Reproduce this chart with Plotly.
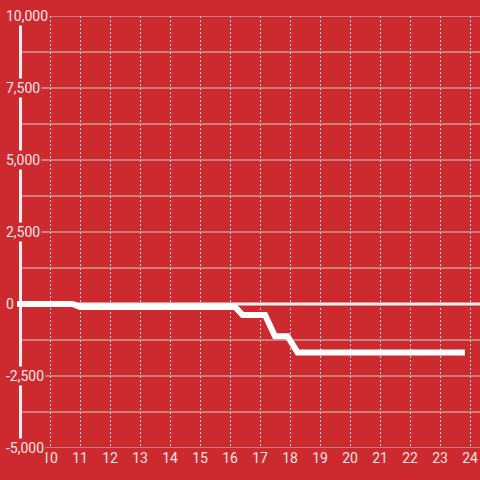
import plotly.graph_objects as go

# hours of the day and the running value
hours = [8.9, 10.75, 11.0, 16.17, 16.42, 17.17, 17.5, 17.92, 18.25, 23.83]
values = [0, 0, -100, -100, -380, -380, -1120, -1120, -1680, -1680]

x_ticks = list(range(10, 25))
y_ticks = [-5000, -2500, 0, 2500, 5000, 7500, 10000]
y_tick_labels = ["-5,000", "-2,500", "0", "2,500", "5,000", "7,500", "10,000"]
y_grid = [-5000, -3750, -2500, -1250, 0, 1250, 2500, 3750, 5000, 6250, 7500, 8750, 10000]

RED = "#CC2A2F"
TEXT = "#F6E2E3"
GRID = "#CFCFCF"
W = 480

fig = go.Figure()
fig.add_trace(go.Scatter(
    x=hours, y=values, mode="lines",
    line=dict(color="#FFFFFF", width=6),
    hoverinfo="skip", showlegend=False,
))

shapes = []
# horizontal grid lines
for v in y_grid:
    shapes.append(dict(type="line", xref="paper", yref="y", x0=22 / W, x1=1, y0=v, y1=v,
                       line=dict(color=GRID, width=1), layer="below"))
# zero line
shapes.append(dict(type="line", xref="paper", yref="y", x0=17 / W, x1=1, y0=0, y1=0,
                   line=dict(color="#F2F2F2", width=3), layer="below"))
# y axis line
shapes.append(dict(type="line", xref="paper", yref="y", x0=20.5 / W, x1=20.5 / W, y0=-5000, y1=10000,
                   line=dict(color="#F2F2F2", width=3), layer="below"))

annotations = []
for v, t in zip(y_ticks, y_tick_labels):
    annotations.append(dict(xref="paper", yref="y", x=4 / W, y=v, text=t, showarrow=False,
                            xanchor="left", yanchor="middle", bgcolor=RED, borderpad=1,
                            font=dict(color=TEXT, size=14, family="Roboto")))

fig.update_layout(
    width=480, height=480,
    margin=dict(l=0, r=0, t=16, b=32),
    paper_bgcolor=RED, plot_bgcolor=RED,
    shapes=shapes, annotations=annotations,
    font=dict(family="Roboto", color=TEXT, size=14),
)
fig.update_xaxes(
    range=[10 - 50 / 30, 10 + 430 / 30],
    tickvals=x_ticks, showgrid=True, gridcolor=GRID, griddash="2px,2px", gridwidth=1,
    zeroline=False, showline=False, ticks="",
    tickfont=dict(color=TEXT, size=14),
)
fig.update_yaxes(range=[-5000, 10000], showgrid=False, zeroline=False,
                 showticklabels=False, showline=False)

fig.write_html("out.html", config={"displayModeBar": False},
               post_script="document.body.style.margin='0';document.body.style.overflow='hidden';")
